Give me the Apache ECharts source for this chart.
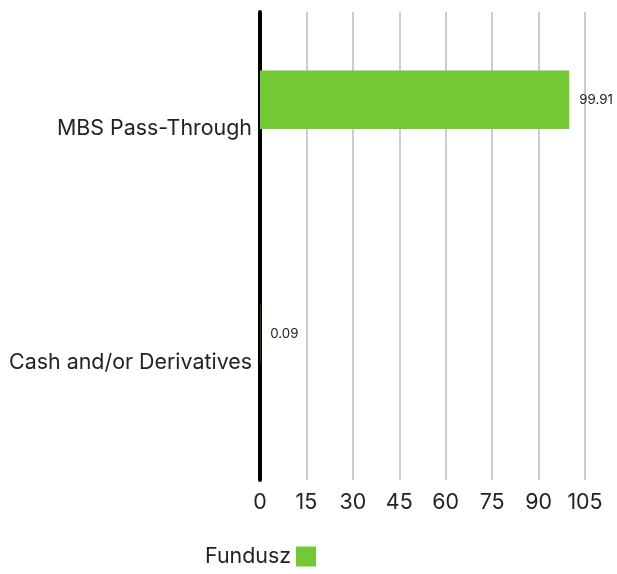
<!DOCTYPE html>
<html><head><meta charset="utf-8">
<script src="https://cdn.jsdelivr.net/npm/echarts@6/dist/echarts.min.js"></script>
<style>html,body{margin:0;padding:0;background:#fff}#c{width:617px;height:574px}</style>
</head><body><div id="c"></div>
<script>
const categories = ['MBS Pass-Through', 'Cash and/or Derivatives'];
const fundValues = [99.91, 0.09];
const xTicks = [0, 15, 30, 45, 60, 75, 90, 105];
const seriesName = 'Fundusz';

const chart = echarts.init(document.getElementById('c'));
const FONT = 'Inter';
chart.setOption({
  animation: false,
  textStyle: { fontFamily: FONT },
  grid: { left: 260, right: 32, top: 12, bottom: 94, containLabel: false },
  legend: {
    data: [seriesName], bottom: 2, left: 200, align: 'right',
    itemWidth: 20, itemHeight: 20, itemGap: 10,
    icon: 'rect',
    textStyle: { fontSize: 21.4, color: '#222', fontFamily: FONT }
  },
  xAxis: {
    type: 'value', min: xTicks[0], max: xTicks[xTicks.length - 1], interval: 15,
    axisLine: { show: false }, axisTick: { show: false },
    splitLine: { show: true, lineStyle: { color: '#cccccc', width: 2 } },
    axisLabel: { fontSize: 21.4, color: '#222', margin: 12, fontFamily: FONT }
  },
  yAxis: {
    type: 'category', data: categories, inverse: true,
    axisLine: { show: true, lineStyle: { color: '#000', width: 4 } },
    axisTick: { show: false },
    axisLabel: { fontSize: 21.4, color: '#222', margin: 8, fontFamily: FONT }
  },
  series: [
    {
      name: seriesName, type: 'bar', data: fundValues,
      itemStyle: { color: '#73c934' },
      barGap: '0%', barCategoryGap: '50%',
      label: { show: true, position: 'right', distance: 10, fontSize: 13.3, color: '#222', fontFamily: FONT }
    },
    {
      name: 'spacer', type: 'bar', data: [null, null],
      itemStyle: { color: 'transparent' }
    }
  ]
});
</script></body></html>
